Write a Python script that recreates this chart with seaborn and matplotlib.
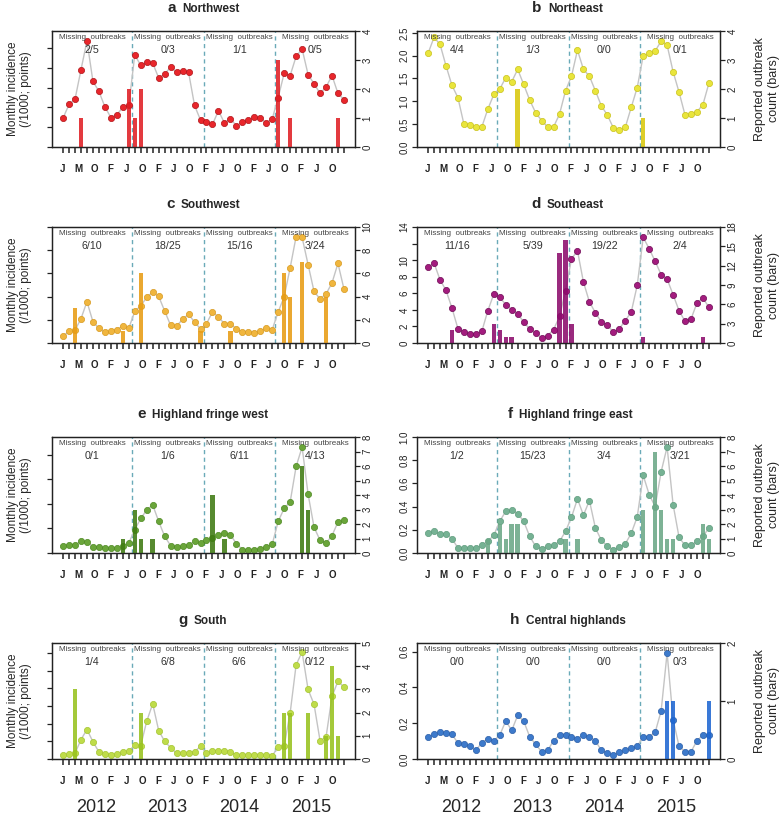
import numpy as np
import matplotlib.pyplot as plt
import seaborn as sns

sns.set_style("ticks")
plt.rcParams["font.family"] = ["Liberation Sans", "DejaVu Sans"]

month_idx = np.arange(48)
month_letters = ["J", "M", "O", "F", "J", "O", "F", "J", "O",
                 "F", "J", "O", "F", "J", "O", "F", "J", "O"]
years = ["2012", "2013", "2014", "2015"]

# monthly incidence (points, left axis) and reported outbreaks (bars, right axis)
nw_inc = [1.46, 2.15, 2.41, 3.90, 5.36, 3.32, 2.81, 2.03, 1.49, 1.64, 2.00, 2.10,
          4.66, 4.12, 4.27, 4.24, 3.49, 3.69, 4.03, 3.78, 3.86, 3.78, 2.10, 1.36,
          1.24, 1.14, 1.83, 1.22, 1.42, 1.08, 1.25, 1.36, 1.53, 1.46, 1.22, 1.42,
          2.50, 3.73, 3.61, 4.58, 4.95, 3.66, 3.19, 2.71, 3.02, 3.61, 2.71, 2.39]
nw_out = [0, 0, 0, 1, 0, 0, 0, 0, 0, 0, 0, 2,
          1, 2, 0, 0, 0, 0, 0, 0, 0, 0, 0, 0,
          0, 0, 0, 0, 0, 0, 0, 0, 0, 0, 0, 0,
          3, 0, 1, 0, 0, 0, 0, 0, 0, 0, 1, 0]
nw_missing = ["2/5", "0/3", "1/1", "0/5"]

ne_inc = [2.05, 2.40, 2.25, 1.78, 1.35, 1.08, 0.50, 0.48, 0.44, 0.44, 0.83, 1.15,
          1.27, 1.52, 1.43, 1.70, 1.37, 1.03, 0.75, 0.58, 0.44, 0.44, 0.72, 1.23,
          1.55, 2.12, 1.70, 1.55, 1.23, 0.90, 0.70, 0.42, 0.37, 0.43, 0.87, 1.30,
          2.00, 2.05, 2.10, 2.32, 2.23, 1.65, 1.20, 0.70, 0.72, 0.77, 0.93, 1.40]
ne_out = [0, 0, 0, 0, 0, 0, 0, 0, 0, 0, 0, 0,
          0, 0, 0, 2, 0, 0, 0, 0, 0, 0, 0, 0,
          0, 0, 0, 0, 0, 0, 0, 0, 0, 0, 0, 0,
          1, 0, 0, 0, 0, 0, 0, 0, 0, 0, 0, 0]
ne_missing = ["4/4", "1/3", "0/0", "0/1"]

sw_inc = [0.29, 0.50, 0.55, 1.05, 1.78, 0.92, 0.63, 0.47, 0.50, 0.58, 0.74, 0.64,
          1.36, 1.60, 1.97, 2.19, 2.01, 1.38, 0.76, 0.73, 1.02, 1.24, 0.90, 0.61,
          0.83, 1.34, 1.12, 0.83, 0.83, 0.61, 0.47, 0.47, 0.44, 0.51, 0.66, 0.58,
          1.34, 2.00, 3.24, 4.59, 4.55, 3.38, 2.22, 1.90, 2.11, 2.59, 3.43, 2.33]
sw_out = [0, 0, 3, 0, 0, 0, 0, 0, 0, 0, 1, 0,
          0, 6, 0, 0, 0, 0, 0, 0, 0, 0, 0, 1,
          0, 0, 0, 0, 1, 0, 0, 0, 0, 0, 0, 0,
          0, 6, 4, 0, 7, 0, 0, 0, 4, 0, 0, 0]
sw_missing = ["6/10", "18/25", "15/16", "3/24"]

se_inc = [9.13, 9.65, 7.64, 6.36, 4.22, 1.73, 1.29, 1.09, 1.09, 1.41, 3.90, 5.91,
          5.51, 4.63, 4.02, 3.54, 2.53, 1.69, 1.21, 0.60, 0.88, 1.61, 3.20, 6.30,
          10.14, 11.14, 7.36, 4.95, 3.66, 2.53, 2.21, 1.29, 1.73, 2.70, 3.74, 6.96,
          12.75, 11.38, 9.86, 8.25, 7.72, 5.83, 3.90, 2.61, 2.90, 4.83, 5.43, 4.30]
se_out = [0, 0, 0, 0, 2, 0, 0, 0, 0, 0, 0, 3,
          2, 1, 1, 0, 0, 0, 0, 0, 0, 0, 14, 16,
          3, 0, 0, 0, 0, 0, 0, 0, 0, 0, 0, 0,
          1, 0, 0, 0, 0, 0, 0, 0, 0, 0, 1, 0]
se_missing = ["11/16", "5/39", "19/22", "2/4"]

hfw_inc = [0.30, 0.33, 0.34, 0.47, 0.45, 0.26, 0.25, 0.19, 0.19, 0.19, 0.28, 0.41,
           0.95, 1.41, 1.75, 1.96, 1.29, 0.68, 0.30, 0.23, 0.27, 0.34, 0.47, 0.41,
           0.52, 0.62, 0.75, 0.81, 0.75, 0.38, 0.14, 0.12, 0.14, 0.16, 0.26, 0.36,
           1.29, 1.82, 2.08, 3.53, 4.32, 2.40, 1.05, 0.52, 0.40, 0.71, 1.26, 1.34]
hfw_out = [0, 0, 0, 0, 0, 0, 0, 0, 0, 0, 1, 0,
           3, 1, 0, 1, 0, 0, 0, 0, 0, 0, 0, 0,
           0, 4, 0, 1, 0, 0, 0, 0, 0, 0, 0, 0,
           0, 0, 0, 0, 6, 3, 0, 0, 0, 0, 0, 0]
hfw_missing = ["0/1", "1/6", "6/11", "4/13"]

hfe_inc = [0.173, 0.187, 0.164, 0.164, 0.124, 0.043, 0.043, 0.043, 0.043, 0.066, 0.100, 0.153,
           0.274, 0.360, 0.369, 0.340, 0.274, 0.144, 0.058, 0.037, 0.058, 0.066, 0.100, 0.187,
           0.308, 0.467, 0.326, 0.452, 0.216, 0.110, 0.058, 0.029, 0.052, 0.078, 0.170, 0.311,
           0.669, 0.504, 0.400, 0.700, 0.914, 0.418, 0.135, 0.066, 0.066, 0.100, 0.144, 0.216]
hfe_out = [0, 0, 0, 0, 0, 0, 0, 0, 0, 0, 1, 0,
           2, 1, 2, 2, 0, 0, 0, 0, 0, 0, 0, 1,
           0, 1, 0, 0, 0, 0, 0, 0, 0, 0, 0, 0,
           3, 0, 7, 3, 1, 1, 0, 0, 0, 0, 2, 1]
hfe_missing = ["1/2", "15/23", "3/4", "3/21"]

s_inc = [0.23, 0.27, 0.32, 1.10, 1.67, 0.98, 0.40, 0.28, 0.25, 0.27, 0.38, 0.45,
         0.78, 0.76, 2.14, 3.13, 1.61, 1.00, 0.64, 0.32, 0.34, 0.34, 0.40, 0.72,
         0.34, 0.47, 0.47, 0.47, 0.40, 0.23, 0.23, 0.23, 0.23, 0.23, 0.23, 0.17,
         0.70, 0.76, 2.61, 5.34, 6.06, 3.94, 3.09, 1.04, 1.23, 3.54, 4.41, 4.07]
s_out = [0, 0, 3, 0, 0, 0, 0, 0, 0, 0, 0, 0,
         0, 2, 0, 0, 0, 0, 0, 0, 0, 0, 0, 0,
         0, 0, 0, 0, 0, 0, 0, 0, 0, 0, 0, 0,
         0, 2, 2, 0, 0, 2, 0, 0, 1, 4, 1, 0]
s_missing = ["1/4", "6/8", "6/6", "0/12"]

ch_inc = [0.125, 0.138, 0.149, 0.147, 0.138, 0.089, 0.082, 0.071, 0.048, 0.091, 0.114, 0.100,
          0.134, 0.212, 0.160, 0.244, 0.212, 0.125, 0.082, 0.041, 0.048, 0.102, 0.134, 0.134,
          0.125, 0.114, 0.134, 0.125, 0.102, 0.048, 0.034, 0.022, 0.041, 0.048, 0.060, 0.071,
          0.125, 0.125, 0.149, 0.268, 0.593, 0.220, 0.071, 0.041, 0.041, 0.102, 0.134, 0.134]
ch_out = [0, 0, 0, 0, 0, 0, 0, 0, 0, 0, 0, 0,
          0, 0, 0, 0, 0, 0, 0, 0, 0, 0, 0, 0,
          0, 0, 0, 0, 0, 0, 0, 0, 0, 0, 0, 0,
          0, 0, 0, 0, 1, 1, 0, 0, 0, 0, 0, 1]
ch_missing = ["0/0", "0/0", "0/0", "0/3"]

panels = [
    dict(letter="a", name="Northwest", inc=nw_inc, out=nw_out, missing=nw_missing,
         pt="#e8262b", edge="#b01318", bar="#e01e24",
         ytop=5.86, yt=[0, 1, 2, 3, 4, 5], ylab=None, btop=4, bt=[0, 1, 2, 3, 4]),
    dict(letter="b", name="Northeast", inc=ne_inc, out=ne_out, missing=ne_missing,
         pt="#e9e53c", edge="#c9c21c", bar="#d9c80c",
         ytop=2.54, yt=[0, 0.5, 1, 1.5, 2, 2.5],
         ylab=["0.0", "0.5", "1.0", "1.5", "2.0", "2.5"], btop=4, bt=[0, 1, 2, 3, 4]),
    dict(letter="c", name="Southwest", inc=sw_inc, out=sw_out, missing=sw_missing,
         pt="#f0b63e", edge="#d89a20", bar="#e89c14",
         ytop=5.0, yt=[0, 1, 2, 3, 4, 5], ylab=None, btop=10, bt=[0, 2, 4, 6, 8, 10]),
    dict(letter="d", name="Southeast", inc=se_inc, out=se_out, missing=se_missing,
         pt="#a31c7e", edge="#6e0a55", bar="#8c0c6c",
         ytop=14, yt=[0, 2, 4, 6, 8, 10, 12, 14],
         ylab=["0", "2", "4", "6", "8", "10", "", "14"], btop=18, bt=[0, 3, 6, 9, 12, 15, 18]),
    dict(letter="e", name="Highland fringe west", inc=hfw_inc, out=hfw_out, missing=hfw_missing,
         pt="#6aa53a", edge="#4e8a22", bar="#3e7a12",
         ytop=4.73, yt=[0, 1, 2, 3, 4], ylab=None, btop=8, bt=list(range(9))),
    dict(letter="f", name="Highland fringe east", inc=hfe_inc, out=hfe_out, missing=hfe_missing,
         pt="#76b294", edge="#5e9c7c", bar="#6ba886",
         ytop=1.0, yt=[0, 0.2, 0.4, 0.6, 0.8, 1.0],
         ylab=["0.0", "0.2", "0.4", "0.6", "0.8", "1.0"], btop=8, bt=list(range(9))),
    dict(letter="g", name="South", inc=s_inc, out=s_out, missing=s_missing,
         pt="#bfdc4a", edge="#a4c430", bar="#98c21e",
         ytop=6.57, yt=[0, 1, 2, 3, 4, 5, 6], ylab=None, btop=5, bt=[0, 1, 2, 3, 4, 5]),
    dict(letter="h", name="Central highlands", inc=ch_inc, out=ch_out, missing=ch_missing,
         pt="#3d7acb", edge="#2a5ea8", bar="#1e66d2",
         ytop=0.648, yt=[0, 0.2, 0.4, 0.6], ylab=["0.0", "0.2", "0.4", "0.6"],
         btop=2, bt=[0, 1, 2]),
]

W, H = 784, 819
fig = plt.figure(figsize=(W / 100, H / 100), dpi=100)

col_left = [52, 417]
row_top = [31, 227, 437, 643]
ax_w, ax_h = 303, 116
xlim = (-1.85, 48.85)
bounds = [xlim[0], 11.5, 23.5, 35.5, xlim[1]]
dark = "#222222"

for i, p in enumerate(panels):
    col, row = i % 2, i // 2
    ax = fig.add_axes([col_left[col] / W, 1 - (row_top[row] + ax_h) / H, ax_w / W, ax_h / H])
    ax2 = ax.twinx()

    for xb in bounds[1:-1]:
        ax.axvline(xb, color="#6aaab8", lw=1, ls=(0, (3, 2.5)), zorder=1)
    sns.lineplot(x=month_idx, y=p["inc"], ax=ax, color="#c4c4c4", lw=1, zorder=2)
    sns.scatterplot(x=month_idx, y=p["inc"], ax=ax, color=p["pt"], edgecolor=p["edge"],
                    s=20, linewidth=0.5, zorder=3)
    sns.barplot(x=month_idx, y=p["out"], ax=ax2, native_scale=True, color=p["bar"],
                width=0.75, saturation=1, alpha=0.88, linewidth=0, errorbar=None)

    ax.set_xlim(*xlim)
    ax.set_ylim(0, p["ytop"])
    ax2.set_ylim(0, p["btop"])
    ax.set_xlabel("")
    ax.set_ylabel("")
    ax2.set_xlabel("")
    ax2.set_ylabel("")

    # x axis: sparse month letters, plus a tick mark for every month
    ax.set_xticks(np.linspace(0, 45, len(month_letters)))
    ax.set_xticklabels(month_letters, fontweight="bold", fontsize=7)
    ax.tick_params(axis="x", length=0, pad=12, colors=dark)
    ax2.vlines(month_idx, -0.05, -0.005, transform=ax2.get_xaxis_transform(),
               colors=dark, lw=1.1, clip_on=False, zorder=6)

    ax.set_yticks(p["yt"])
    ax.set_yticklabels(p["ylab"] if p["ylab"] else [""] * len(p["yt"]))
    ax2.set_yticks(p["bt"])
    ax2.set_yticklabels([str(v) for v in p["bt"]])
    for a in (ax, ax2):
        a.tick_params(axis="y", length=3.5, width=0.9, labelsize=7, labelrotation=90,
                      pad=2, colors=dark)
        for lab in a.get_yticklabels():
            lab.set_va("center")
        for sp in a.spines.values():
            sp.set_color(dark)
            sp.set_linewidth(0.9)

    # missing / total outbreaks per season
    for k in range(4):
        xc = (bounds[k] + bounds[k + 1]) / 2
        ax2.text(xc, 0.94, "Missing  outbreaks", transform=ax2.get_xaxis_transform(),
                 ha="center", va="center", fontsize=5.8, color="#444444", zorder=5)
        ax2.text(xc, 0.835, p["missing"][k], transform=ax2.get_xaxis_transform(),
                 ha="center", va="center", fontsize=7.7, color="#333333", zorder=5)

    # panel title
    name_t = ax.text(0.5 + 0.023, 1.168, p["name"], transform=ax.transAxes,
                     ha="center", va="baseline", fontsize=8.5, fontweight="bold")
    ax.annotate(p["letter"], xy=(0, 0), xycoords=name_t, xytext=(-4.5, 0),
                textcoords="offset points", ha="right", va="bottom",
                fontsize=11, fontweight="bold")

    if col == 0:
        ax.text(-0.107, 0.5, "Monthly incidence\n(/1000; points)", transform=ax.transAxes,
                rotation=90, ha="center", va="center", fontsize=8.5, linespacing=1.2)
    else:
        ax2.text(1.154, 0.5, "Reported outbreak\ncount (bars)", transform=ax2.transAxes,
                 rotation=90, ha="center", va="center", fontsize=9, linespacing=1.2)

    if row == 3:
        for k, yr in enumerate(years):
            ax.text(5.5 + 12 * k, -0.42, yr, transform=ax.get_xaxis_transform(),
                    ha="center", va="center", fontsize=13)

fig.savefig("out.png", dpi=100)
